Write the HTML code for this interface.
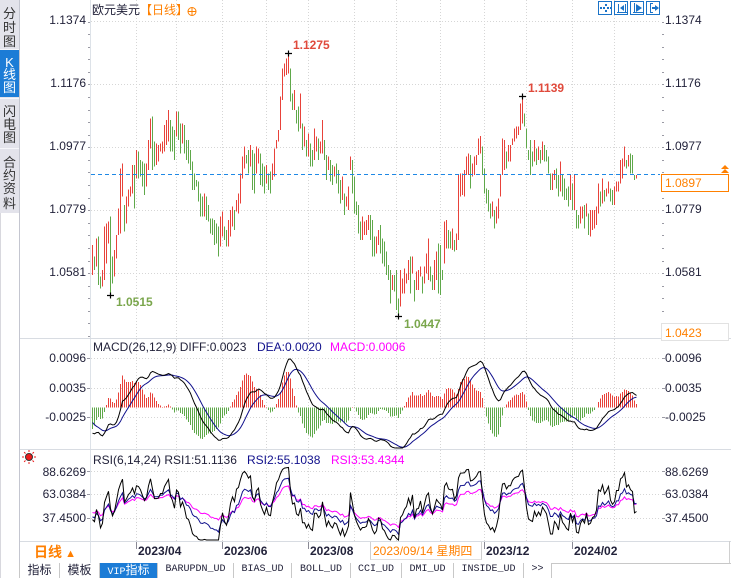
<!DOCTYPE html>
<html><head><meta charset="utf-8">
<style>
*{margin:0;padding:0;box-sizing:border-box}
body{width:731px;height:578px;overflow:hidden;background:#fff;position:relative;font-family:"Liberation Sans","Noto Sans CJK SC",sans-serif;color:#22223a}
.t{position:absolute;white-space:nowrap;font-size:12px;line-height:12px}
.r{text-align:right}
.sb{position:absolute;left:0;width:19px;height:13px;line-height:13px;font-size:13px;text-align:center;color:#333}
.tabs{position:absolute;left:19px;top:563px;height:15px;display:flex;font-size:12px;line-height:14px}
.tabs div{border-right:1px solid #c8c8c8;text-align:center;height:15px;background:#fff}
.mono{font-family:"Liberation Mono","Noto Sans CJK SC",monospace;font-size:10px}
</style></head><body>
<svg id="s" width="731" height="578" style="position:absolute;left:0;top:0"></svg>

<!-- sidebar -->
<div style="position:absolute;left:0;top:0;width:19px;height:213px;background:#e3e3eb"></div>
<div style="position:absolute;left:0;top:49px;width:19px;height:1px;background:#f6f6fa"></div>
<div style="position:absolute;left:0;top:50px;width:19px;height:47px;background:#1c7cd6"></div>
<div style="position:absolute;left:0;top:98px;width:19px;height:1px;background:#f6f6fa"></div>
<div style="position:absolute;left:0;top:148px;width:19px;height:1px;background:#f6f6fa"></div>
<div class="sb" style="top:7px">分</div>
<div class="sb" style="top:21px">时</div>
<div class="sb" style="top:35px">图</div>
<div class="sb" style="top:56px;color:#fff">K</div>
<div class="sb" style="top:68px;color:#fff">线</div>
<div class="sb" style="top:81px;color:#fff">图</div>
<div class="sb" style="top:105px">闪</div>
<div class="sb" style="top:118px">电</div>
<div class="sb" style="top:131px">图</div>
<div class="sb" style="top:156px">合</div>
<div class="sb" style="top:169px">约</div>
<div class="sb" style="top:182px">资</div>
<div class="sb" style="top:197px">料</div>

<!-- title -->
<div class="t" style="left:92px;top:4px">欧元美元<span style="color:#ff8000">【日线】</span></div>

<!-- main axis labels -->
<div class="t r" style="right:645px;top:14px">1.1374</div>
<div class="t r" style="right:645px;top:77px">1.1176</div>
<div class="t r" style="right:645px;top:140px">1.0977</div>
<div class="t r" style="right:645px;top:203px">1.0779</div>
<div class="t r" style="right:645px;top:266px">1.0581</div>
<div class="t" style="left:665px;top:14px">1.1374</div>
<div class="t" style="left:665px;top:77px">1.1176</div>
<div class="t" style="left:665px;top:140px">1.0977</div>
<div class="t" style="left:665px;top:203px">1.0779</div>
<div class="t" style="left:665px;top:266px">1.0581</div>
<div style="position:absolute;left:661px;top:174px;width:68px;height:18px;border:1px solid #ff8000;background:#fff"></div>
<div class="t" style="left:665px;top:177px;color:#ff8000">1.0897</div>
<div style="position:absolute;left:661px;top:323px;width:68px;height:18px;border:1px solid #e2e2e2;background:#fff"></div>
<div class="t" style="left:665px;top:327px;color:#ff8000">1.0423</div>

<!-- extreme labels -->
<div class="t" style="left:293px;top:39px;color:#e04a3c;font-weight:bold">1.1275</div>
<div class="t" style="left:116px;top:296px;color:#7aa64c;font-weight:bold">1.0515</div>
<div class="t" style="left:528px;top:82px;color:#e04a3c;font-weight:bold">1.1139</div>
<div class="t" style="left:404px;top:318px;color:#7aa64c;font-weight:bold">1.0447</div>

<!-- MACD -->
<div class="t" style="left:93px;top:341px">MACD(26,12,9) DIFF:0.0023</div>
<div class="t" style="left:257px;top:341px;color:#10108c">DEA:0.0020</div>
<div class="t" style="left:330px;top:341px;color:#ff00ff">MACD:0.0006</div>
<div class="t r" style="right:645px;top:352px">0.0096</div>
<div class="t r" style="right:645px;top:382px">0.0035</div>
<div class="t r" style="right:645px;top:411px">-0.0025</div>
<div class="t" style="left:665px;top:352px">0.0096</div>
<div class="t" style="left:665px;top:382px">0.0035</div>
<div class="t" style="left:665px;top:411px">-0.0025</div>

<!-- RSI -->
<div class="t" style="left:93px;top:454px">RSI(6,14,24) RSI1:51.1136</div>
<div class="t" style="left:247px;top:454px;color:#10108c">RSI2:55.1038</div>
<div class="t" style="left:331px;top:454px;color:#ff00ff">RSI3:53.4344</div>
<div class="t r" style="right:645px;top:466px">88.6269</div>
<div class="t r" style="right:645px;top:488px">63.0384</div>
<div class="t r" style="right:645px;top:512px">37.4500</div>
<div class="t" style="left:665px;top:466px">88.6269</div>
<div class="t" style="left:665px;top:488px">63.0384</div>
<div class="t" style="left:665px;top:512px">37.4500</div>

<!-- date row -->
<div style="position:absolute;left:20px;top:542px;width:70px;height:21px;line-height:21px;text-align:center;color:#ff7f00;font-weight:bold;font-size:14px">日线<span style="font-size:11px"> ▲</span></div>
<div class="t" style="left:138px;top:545px;font-weight:bold">2023/04</div>
<div class="t" style="left:224px;top:545px;font-weight:bold">2023/06</div>
<div class="t" style="left:310px;top:545px;font-weight:bold">2023/08</div>
<div style="position:absolute;left:370px;top:542px;width:112px;height:18px;background:#fff;border-left:1px solid #d0d0d0;border-right:1px solid #d0d0d0;border-bottom:1px solid #e0e0e0"></div>
<div class="t" style="left:373px;top:545px;color:#ff8000">2023/09/14 星期四</div>
<div class="t" style="left:486px;top:545px;font-weight:bold">2023/12</div>
<div class="t" style="left:574px;top:545px;font-weight:bold">2024/02</div>

<!-- tabs -->
<div class="tabs">
<div style="width:41px;border-left:1px solid #c8c8c8">指标</div>
<div style="width:40px">模板</div>
<div style="width:58px;background:#1c7cd6;color:#fff"><span class="mono" style="font-size:10px">VIP</span>指标</div>
<div style="width:76px" class="mono">BARUPDN_UD</div>
<div style="width:58px" class="mono">BIAS_UD</div>
<div style="width:59px" class="mono">BOLL_UD</div>
<div style="width:51px" class="mono">CCI_UD</div>
<div style="width:52px" class="mono">DMI_UD</div>
<div style="width:70px" class="mono">INSIDE_UD</div>
<div style="width:28px" class="mono">&gt;&gt;</div>
</div>

<script>
const NS='http://www.w3.org/2000/svg';
const svg=document.getElementById('s');
function el(tag,attrs,parent){const e=document.createElementNS(NS,tag);for(const k in attrs)e.setAttribute(k,attrs[k]);(parent||svg).appendChild(e);return e;}
const RED='#e8423a',GREEN='#5fa84a';

const A9=[645,735,680,720,625,710,620,765,740,775,720,770,590,750,580,700,575,640,560,795,
680,760,660,740,615,685,535,615,415,610,400,500,525,605,500,580,478,530,470,500,
405,490,405,535,360,445,365,445,390,440,395,470,400,495,400,470,330,420,265,355,
260,420,335,410,340,405,345,395,340,365,335,370,285,365,270,345,240,335,270,365,
290,365,300,390,245,320,245,330,280,370,280,340,285,370,330,390,330,400,360,420,
395,480,430,480,450,470,455,515,490,560,500,560,490,560,500,570,525,575,565,610,
565,615,570,645,580,640,590,680,560,650,545,620,590,630,600,650,570,650,540,620,
530,590,540,600,510,545,490,550,430,520,380,445,350,415,375,400,360,430,345,410,
360,480,370,490,350,430,355,400,370,465,400,470,410,490,405,460,430,480,425,490,
400,450,355,440,330,355,300,335,200,300,115,210,100,140,85,135,70,130,115,215,
190,240,180,240,240,280,230,305,190,295,280,360,290,350,330,380,310,380,340,410,
360,410,295,390,320,365,325,390,335,370,270,370,330,390,375,450,380,420,390,455,
405,465,410,440,400,460,420,490,450,520,440,510,490,555,500,530,470,540,380,420,
390,490,440,550,515,555,525,610,575,630,560,630,575,615,570,615,555,600,555,630,
570,680,620,680,620,670,600,645];
const A10=[495,580,535,610,545,620,575,645,615,660,630,730,645,690,645,695,630,750,715,770,
630,740,655,700,625,700,640,670,600,660,590,700,590,640,660,725,635,690,630,690,
620,650,650,700,620,670,580,640,535,660,620,665,645,690,600,690,575,660,550,700,
555,705,630,660,485,610,480,565,510,565,515,565,505,570,540,575,520,570,345,540,
340,410,340,405,330,410,290,345,280,345,285,385,310,350,290,345,285,315,235,285,
228,280,260,345,325,400,385,430,390,455,430,475,425,470,450,505,440,490,415,475,
345,410,235,345,240,330,275,325,255,305,255,305,235,255,205,245,200,235,200,225,
130,210,110,190,160,200,205,265,270,300,240,345,275,320,240,305,265,315,260,300,
270,310,245,300,255,305,270,305,290,340,340,390,340,390,330,360,325,385,345,410,
305,395,345,410,355,420,385,420,380,440,345,420,370,450,345,450,450,505,465,505,
440,490,440,475,435,505,430,470,460,525,450,530,450,510,450,505,440,495,370,460,
395,440,355,430,390,425,385,410,365,400,385,425,390,435,380,435,365,395,365,395,
300,370,295,355,260,320,300,325,285,320,280,340,285,340,345,360,345,355];
const hi=[],lo=[];
for(let i=0;i<A9.length/2;i++){hi.push(30+A9[2*i]/3);lo.push(30+A9[2*i+1]/3);}
for(let i=0;i<A10.length/2;i++){hi.push(60+A10[2*i]/3);lo.push(60+A10[2*i+1]/3);}
const N=hi.length;
const y2p=y=>1.1374-(y-21.5)*0.0003151;
const mid=[];for(let i=0;i<N;i++)mid.push(y2p((hi[i]+lo[i])/2));
const X=i=>92+2*i;

// grid
const grid=el('g',{stroke:'#d6d6d6','stroke-width':1,'stroke-dasharray':'1,2','shape-rendering':'crispEdges'});
[21.5,84.5,147.5,210.5,273.5,358.5,388.5,417.5,471.5,494.5,518.5].forEach(y=>el('line',{x1:91,x2:661,y1:y,y2:y},grid));
const months=[22,42,65,87,108,131,152,174,196,217,240,261];
months.forEach(i=>{const x=X(i)+0.5;el('line',{x1:x,x2:x,y1:0,y2:541},grid);});

// axis lines & separators
const ax=el('g',{'shape-rendering':'crispEdges','stroke-width':1});
el('line',{x1:90.5,x2:90.5,y1:0,y2:563,stroke:'#dde2e8'},ax);
el('line',{x1:19.5,x2:19.5,y1:0,y2:578,stroke:'#c4c6d0'},ax);
el('line',{x1:0.5,x2:0.5,y1:213,y2:578,stroke:'#d8d8de'},ax);
[338.5,449.5,541.5].forEach(y=>el('line',{x1:20,x2:731,y1:y,y2:y,stroke:'#d8dce2'},ax));
el('line',{x1:20,x2:731,y1:563.5,y2:563.5,stroke:'#c8c8c8'},ax);
el('line',{x1:729.5,x2:729.5,y1:541,y2:563,stroke:'#d0d0d0'},ax);
// minor ticks
const tk=el('g',{stroke:'#9a9aa4','stroke-width':1,'shape-rendering':'crispEdges'});
for(let y=21.5;y<337;y+=12.58){const yy=Math.round(y)+0.5;el('line',{x1:88,x2:90,y1:yy,y2:yy},tk);el('line',{x1:662,x2:664,y1:yy,y2:yy},tk);}
[358.5,388.5,417.5,471.5,494.5,518.5].forEach(y=>{el('line',{x1:87,x2:90,y1:y,y2:y},tk);el('line',{x1:662,x2:665,y1:y,y2:y},tk);});
// date ticks
[22,65,108,196,240].forEach(i=>{const x=X(i)+0.5;el('line',{x1:x,x2:x,y1:542,y2:549,stroke:'#8a8a95','shape-rendering':'crispEdges'});});

// candles
const cg=el('g',{'shape-rendering':'crispEdges'});
for(let i=0;i<N;i++){const up=i==0?true:mid[i]>=mid[i-1];
el('rect',{x:X(i),y:hi[i].toFixed(1),width:1,height:Math.max(1,lo[i]-hi[i]).toFixed(1),fill:up?RED:GREEN},cg);}

// dashed current price
el('line',{x1:91,x2:660,y1:174.5,y2:174.5,stroke:'#1e88e5','stroke-dasharray':'4,3','shape-rendering':'crispEdges'});

// extreme crosses
[[X(98)+0.5,53.5],[X(9)+0.5,295.5],[X(215)+0.5,96.5],[X(153)+0.5,316.5]].forEach(([x,y])=>{
el('path',{d:`M${x-3.5} ${y}h7M${x} ${y-3}v6`,stroke:'#000','stroke-width':1.2});});

// warm-up series
const anc=[[0,1.052],[20,1.066],[40,1.088],[43,1.100],[56,1.056],[58,1.066],[60,mid[0]]];
const pre=[];
for(let k=0;k<60;k++){let s=0;while(anc[s+1][0]<k)s++;const [k0,v0]=anc[s],[k1,v1]=anc[s+1];
let v=v0+(v1-v0)*(k-k0)/(k1-k0);v+=0.0025*Math.sin(k*1.7)+0.0015*Math.sin(k*3.1);pre.push(v);}
const C=pre.concat(mid);const off=pre.length;
function ema(arr,n){const a=2/(n+1);const out=[];let v=arr[0];for(const x of arr){v=v+a*(x-v);out.push(v);}return out;}
const e12=ema(C,12),e26=ema(C,26);
const dif=C.map((_,k)=>e12[k]-e26[k]);
const dea=ema(dif,9);
let maxD=0;for(let i=0;i<N;i++)maxD=Math.max(maxD,dif[i+off],dea[i+off]);
const base=407.5;const K=(base-359)/maxD;
const clampM=y=>Math.max(340,Math.min(448,y));
const hg=el('g',{'shape-rendering':'crispEdges'});
for(let i=0;i<N;i++){const h=2*(dif[i+off]-dea[i+off])*K;
const y1=clampM(base-h);const top=Math.min(base,y1),ht=Math.abs(y1-base);
if(ht>0.3)el('rect',{x:X(i),y:top.toFixed(1),width:1,height:ht.toFixed(1),fill:h>=0?RED:GREEN},hg);}
function pl(vals,map,color){let p='';for(let i=0;i<N;i++)p+=`${X(i)+0.5},${map(vals[i+off]).toFixed(1)} `;
el('polyline',{points:p,fill:'none',stroke:color,'stroke-width':1});}
pl(dea,v=>clampM(base-v*K),'#10108c');
pl(dif,v=>clampM(base-v*K),'#000');

// RSI
function rsi(arr,n){const out=[50];let up=0,dn=0;for(let k=1;k<arr.length;k++){const d=arr[k]-arr[k-1];
up=(Math.max(d,0)+(n-1)*up)/n;dn=(Math.abs(d)+(n-1)*dn)/n;out.push(dn?up/dn*100:50);}return out;}
const rmap=v=>Math.max(452,Math.min(540,518-(v-37.45)*0.905));
pl(rsi(C,24),rmap,'#ff00ff');
pl(rsi(C,14),rmap,'#10108c');
pl(rsi(C,6),rmap,'#000');

// icons top-right
const ic=el('g',{stroke:'#1a73c8',fill:'none','stroke-width':1,'shape-rendering':'crispEdges'});
[598,614,630,646].forEach(x=>el('rect',{x:x+0.5,y:1.5,width:13,height:13},ic));
const icf=el('g',{fill:'#1a73c8'});
[[603,7],[607,7],[605,4],[605,10],[600,7],[610,7]].forEach(([x,y])=>el('rect',{x:x,y:y,width:2,height:2},icf));
el('path',{d:'M618.5 4v8M625.5 4v8M617 12.5h11'},ic);el('polygon',{points:'620,8 624,5 624,11'},icf);
el('path',{d:'M634.5 3v10M633 12.5h10'},ic);el('polygon',{points:'636,4 642,8 636,12'},icf);
el('path',{d:'M650.5 3v10M650 3.5h3M650 12.5h3'},ic);el('polygon',{points:'655,5 659,8 655,11'},icf);el('rect',{x:652,y:7,width:3,height:2},icf);

// orange up arrow
const oa=el('g',{fill:'#ff8000'});
el('polygon',{points:'721,169 725,165 729,169'},oa);el('polygon',{points:'721,173 725,169 729,173'},oa);

// title circle-plus
el('circle',{cx:192,cy:11.5,r:4,fill:'none',stroke:'#ff8000','stroke-width':1});
el('path',{d:'M188 11.5h8M192 7.5v8',stroke:'#ff8000','stroke-width':1});

// sun icon
const sg=el('g',{stroke:'#ee1c1c','stroke-width':1});
for(let a=0;a<8;a++){const t=a*Math.PI/4;el('line',{x1:(29+5*Math.cos(t)).toFixed(1),y1:(457+5*Math.sin(t)).toFixed(1),x2:(29+7*Math.cos(t)).toFixed(1),y2:(457+7*Math.sin(t)).toFixed(1)},sg);}
el('circle',{cx:29,cy:457,r:3.5,fill:'#ee1c1c',stroke:'#333','stroke-width':1});
</script>
</body></html>
